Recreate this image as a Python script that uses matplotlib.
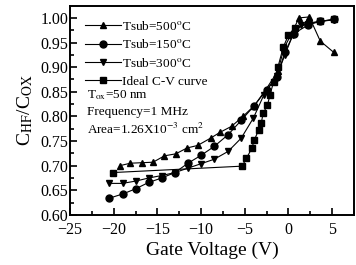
import numpy as np
from matplotlib import pyplot as plt
from matplotlib.ticker import MultipleLocator, FormatStrFormatter

plt.rcParams['font.family'] = ['Liberation Serif', 'DejaVu Serif']
plt.rcParams['mathtext.fontset'] = 'stix'

# Tsub=500 C (triangles up)
v_500 = [-19.3, -18.1, -16.8, -15.5, -14.2, -12.9, -11.6, -10.4, -8.9, -7.8, -6.5,
         -5.2, -3.9, -2.6, -1.2, -0.5, 0.4, 1.2, 2.4, 3.65, 5.2]
c_500 = [0.700, 0.705, 0.706, 0.707, 0.720, 0.724, 0.736, 0.741, 0.756, 0.768, 0.780,
         0.800, 0.822, 0.854, 0.892, 0.939, 0.969, 1.000, 1.002, 0.953, 0.930]

# Tsub=150 C (circles)
v_150 = [-20.5, -18.9, -17.5, -16.0, -14.5, -13.0, -11.5, -10.0, -8.5, -6.9, -5.4,
         -3.9, -2.5, -1.3, -0.4, 0.6, 2.3, 3.65, 5.2]
c_150 = [0.634, 0.643, 0.653, 0.666, 0.675, 0.686, 0.705, 0.721, 0.739, 0.763, 0.792,
         0.822, 0.854, 0.881, 0.930, 0.968, 0.986, 0.993, 0.997]

# Tsub=300 C (triangles down)
v_300 = [-20.5, -19.0, -17.4, -16.0, -14.5, -13.0, -11.5, -10.0, -8.5, -6.9, -5.4,
         -4.0, -2.8, -1.3, -0.4, 0.5, 1.5, 2.4, 3.65, 5.2]
c_300 = [0.664, 0.664, 0.669, 0.675, 0.680, 0.686, 0.695, 0.704, 0.713, 0.729, 0.756,
         0.797, 0.844, 0.883, 0.925, 0.965, 0.985, 0.990, 0.993, 0.996]

# ideal C-V curve (squares)
v_ideal = [-20.1, -5.3, -4.8, -4.2, -3.9, -3.4, -3.1, -2.9, -2.4, -2.1, -1.7, -1.2,
           -0.6, 0.0, 0.8, 2.3, 3.65, 5.2]
c_ideal = [0.686, 0.699, 0.715, 0.735, 0.752, 0.773, 0.787, 0.806, 0.823, 0.844, 0.870,
           0.900, 0.940, 0.965, 0.980, 0.988, 0.993, 0.997]


def main():
    fig = plt.figure(figsize=(3.56, 2.65), dpi=100)
    ax = fig.add_axes([0.197, 0.189, 0.797, 0.788])

    style = dict(color='black', lw=0.8, ms=5)
    ax.plot(v_500, c_500, marker='^', label='Tsub=500$^{\\rm o}$C', **style)
    ax.plot(v_150, c_150, marker='o', label='Tsub=150$^{\\rm o}$C', **style)
    ax.plot(v_300, c_300, marker='v', label='Tsub=300$^{\\rm o}$C', **style)
    ax.plot(v_ideal, c_ideal, marker='s', label='Ideal C-V curve', **style)

    ax.set_xlim(-25, 7.5)
    ax.set_ylim(0.60, 1.024)
    ax.xaxis.set_major_locator(MultipleLocator(5))
    ax.xaxis.set_minor_locator(MultipleLocator(2.5))
    ax.yaxis.set_major_locator(MultipleLocator(0.05))
    ax.yaxis.set_minor_locator(MultipleLocator(0.025))
    ax.yaxis.set_major_formatter(FormatStrFormatter('%.2f'))
    ax.tick_params(which='both', direction='in', top=False, right=False,
                   labelsize=11.5, width=1.2)
    ax.tick_params(axis='x', pad=5)
    ax.tick_params(axis='y', pad=1.5)
    ax.tick_params(which='major', length=5)
    ax.tick_params(which='minor', length=3)
    for s in ax.spines.values():
        s.set_linewidth(1.4)

    ax.set_xlabel('Gate Voltage (V)', fontsize=14, labelpad=3)
    ax.set_ylabel('C$_{\\rm HF}$/C$_{\\rm OX}$', fontsize=14, labelpad=4)

    ax.legend(loc='upper left', bbox_to_anchor=(0.035, 0.96), frameon=False,
              fontsize=9.5, handlelength=2.7, handletextpad=0.05,
              labelspacing=0.42, numpoints=1, borderaxespad=0.0)

    ax.text(0.059, 0.574, 'T$_{\\rm ox}$=50 nm', transform=ax.transAxes,
            fontsize=9.5, va='center')
    ax.text(0.059, 0.493, 'Frequency=1 MHz', transform=ax.transAxes,
            fontsize=9.5, va='center')
    ax.text(0.059, 0.407, 'Area=1.26X10$^{-3}$ cm$^{2}$', transform=ax.transAxes,
            fontsize=9.5, va='center')

    fig.savefig('out.png', dpi=100)


if __name__ == '__main__':
    main()
